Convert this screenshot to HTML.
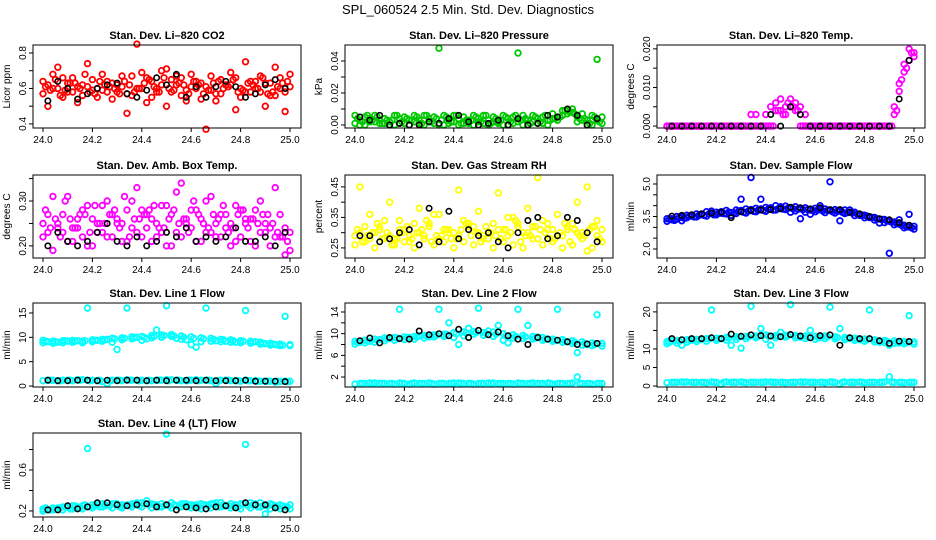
<!DOCTYPE html>
<html><head><meta charset="utf-8">
<style>
html,body{margin:0;padding:0;background:#fff;}
svg{display:block;font-family:"Liberation Sans",Arial,sans-serif;}
</style></head>
<body>
<svg id="chart" width="936" height="540" viewBox="0 0 936 540">
<text x="468" y="14" text-anchor="middle" font-size="13">SPL_060524  2.5 Min. Std. Dev. Diagnostics</text>
</svg>
<script>
// shared time grids
const tA = [24.00,24.04,24.08,24.12,24.16,24.20,24.24,24.28,24.32,24.36,24.40,24.44,24.48,24.52,24.56,24.60,24.64,24.68,24.72,24.76,24.80,24.84,24.88,24.92,24.96,25.00];
const tB = [24.02,24.06,24.10,24.14,24.18,24.22,24.26,24.30,24.34,24.38,24.42,24.46,24.50,24.54,24.58,24.62,24.66,24.70,24.74,24.78,24.82,24.86,24.90,24.94,24.98];
const tC = [24.01,24.05,24.09,24.13,24.17,24.21,24.25,24.29,24.33,24.37,24.41,24.45,24.49,24.53,24.57,24.61,24.65,24.69,24.73,24.77,24.81,24.85,24.89,24.93,24.97];
const tD = [24.03,24.07,24.11,24.15,24.19,24.23,24.27,24.31,24.35,24.39,24.43,24.47,24.51,24.55,24.59,24.63,24.67,24.71,24.75,24.79,24.83,24.87,24.91,24.95,24.99];
const xTicks = [24.0,24.2,24.4,24.6,24.8,25.0];

// CO2
const co2A = [0.64,0.60,0.66,0.58,0.62,0.65,0.59,0.63,0.61,0.67,0.60,0.64,0.62,0.58,0.66,0.61,0.63,0.59,0.65,0.62,0.60,0.64,0.58,0.63,0.66,0.61];
const co2B = [0.57,0.68,0.55,0.66,0.56,0.59,0.68,0.54,0.67,0.56,0.69,0.55,0.70,0.65,0.56,0.68,0.54,0.67,0.57,0.69,0.55,0.58,0.67,0.56,0.60,0.68];
const co2C = [0.62,0.72,0.58,0.61,0.74,0.60,0.64,0.62,0.57,0.85,0.66,0.60,0.71,0.62,0.59,0.64,0.61,0.53,0.62,0.66,0.75,0.60,0.63,0.72,0.58];
const co2D = [0.50,0.60,0.63,0.52,0.61,0.55,0.58,0.58,0.46,0.60,0.52,0.58,0.50,0.67,0.53,0.60,0.37,0.57,0.62,0.48,0.58,0.64,0.50,0.56,0.47];
const co2E = [0.61,0.65,0.59,0.63,0.68,0.57,0.62,0.60,0.64,0.58,0.63,0.61,0.66,0.59,0.62,0.64,0.57,0.63,0.60,0.65,0.59,0.62,0.66,0.58,0.63];
const co2F = [0.59,0.56,0.63,0.60,0.58,0.64,0.61,0.57,0.62,0.60,0.65,0.58,0.60,0.63,0.57,0.62,0.59,0.64,0.61,0.58,0.63,0.60,0.57,0.61,0.64];
const co2K = [0.53,0.64,0.60,0.54,0.57,0.60,0.62,0.63,0.57,0.55,0.59,0.66,0.62,0.68,0.55,0.61,0.55,0.61,0.64,0.61,0.55,0.57,0.62,0.65,0.60];
// Pressure
const prA = [0.006,0.005,0.006,0.004,0.006,0.005,0.006,0.006,0.005,0.006,0.006,0.005,0.006,0.006,0.005,0.006,0.005,0.006,0.006,0.005,0.007,0.009,0.010,0.007,0.006,0.005];
const prB = [0.001,0.000,0.002,0.001,0.000,0.001,0.002,0.000,0.001,0.000,0.002,0.001,0.000,0.001,0.002,0.000,0.001,0.000,0.002,0.001,0.004,0.006,0.008,0.003,0.000,0.001];
const prC = [0.003,0.004,0.003,0.002,0.004,0.003,0.003,0.004,0.048,0.003,0.004,0.003,0.004,0.003,0.002,0.004,0.045,0.003,0.004,0.003,0.005,0.009,0.005,0.003,0.003];
const prD = [0.000,0.002,0.001,0.000,0.001,0.000,0.001,0.002,0.000,0.001,0.000,0.001,0.002,0.000,0.001,0.000,0.002,0.000,0.001,0.000,0.003,0.007,0.002,0.000,0.041];
const prE = [0.004,0.006,0.005,0.003,0.006,0.004,0.005,0.006,0.004,0.005,0.006,0.003,0.005,0.006,0.004,0.005,0.006,0.004,0.005,0.006,0.004,0.009,0.007,0.004,0.005];
const prF = [0.002,0.003,0.001,0.003,0.002,0.003,0.001,0.002,0.003,0.002,0.001,0.003,0.002,0.001,0.003,0.002,0.003,0.001,0.002,0.003,0.005,0.008,0.004,0.001,0.002];
const prK = [0.005,0.003,0.006,0.000,0.001,0.000,0.000,0.002,0.001,0.004,0.006,0.002,0.000,0.001,0.003,0.000,0.004,0.000,0.001,0.006,0.005,0.010,0.006,0.000,0.004];
// Li-820 temp
const tmA = [0,0,0,0,0,0,0,0,0,0.003,0.003,0.004,0.005,0.006,0.003,0,0,0,0,0,0,0,0,0.003,0.014,0.019];
const tmB = [0,0,0,0,0,0,0,0,0,0,0,0.006,0.003,0.004,0,0,0,0,0,0,0,0,0,0.005,0.016,0.018];
const tmC = [0,0,0,0,0,0,0,0,0.003,0,0.005,0.004,0.005,0.005,0,0,0,0,0,0,0,0,0,0.011,0.020];
const tmD = [0,0,0,0,0,0,0,0,0,0,0,0.007,0.007,0,0,0,0,0,0,0,0,0,0,0.009,0.017];
const tmE = [0,0,0,0,0,0,0,0,0,0,0,0.004,0.006,0.004,0,0,0,0,0,0,0,0,0,0.004,0.015];
const tmF = [0,0,0,0,0,0,0,0,0,0,0,0.003,0.005,0,0,0,0,0,0,0,0,0,0,0.012,0.019];
const tmK = [0,0,0,0,0,0,0,0,0,0,0.003,0,0.005,0.003,0,0,0,0,0,0,0,0,0,0.007,0.017];
// Amb box temp
const abA = [0.25,0.31,0.27,0.24,0.28,0.26,0.29,0.27,0.25,0.30,0.28,0.26,0.29,0.27,0.34,0.28,0.26,0.31,0.27,0.25,0.28,0.26,0.30,0.24,0.27,0.23];
const abB = [0.22,0.19,0.23,0.21,0.22,0.20,0.23,0.22,0.21,0.24,0.22,0.21,0.23,0.20,0.22,0.24,0.21,0.23,0.22,0.20,0.22,0.21,0.23,0.20,0.22,0.19];
const abC = [0.27,0.24,0.31,0.26,0.29,0.25,0.30,0.26,0.28,0.33,0.27,0.25,0.29,0.32,0.26,0.28,0.30,0.25,0.27,0.29,0.26,0.28,0.25,0.33,0.24];
const abD = [0.23,0.25,0.21,0.24,0.20,0.23,0.22,0.25,0.21,0.23,0.24,0.22,0.20,0.23,0.25,0.21,0.23,0.22,0.24,0.21,0.25,0.20,0.23,0.22,0.18];
const abE = [0.28,0.26,0.30,0.24,0.27,0.29,0.25,0.28,0.31,0.26,0.27,0.29,0.24,0.28,0.26,0.30,0.25,0.27,0.29,0.24,0.28,0.26,0.27,0.25,0.22];
const abF = [0.24,0.22,0.26,0.27,0.23,0.25,0.27,0.24,0.22,0.26,0.28,0.24,0.26,0.25,0.23,0.27,0.24,0.26,0.23,0.27,0.24,0.25,0.27,0.23,0.21];
const abK = [0.20,0.23,0.21,0.20,0.21,0.23,0.25,0.21,0.20,0.22,0.20,0.21,0.23,0.22,0.24,0.21,0.22,0.21,0.22,0.24,0.21,0.21,0.22,0.20,0.23];
// Gas stream RH
const rhA = [0.29,0.32,0.30,0.34,0.28,0.31,0.33,0.29,0.36,0.31,0.30,0.34,0.32,0.29,0.33,0.31,0.35,0.30,0.32,0.34,0.31,0.29,0.33,0.30,0.32,0.31];
const rhB = [0.26,0.27,0.25,0.28,0.26,0.27,0.25,0.28,0.26,0.27,0.25,0.27,0.26,0.28,0.25,0.27,0.26,0.25,0.28,0.26,0.27,0.25,0.26,0.28,0.25,0.27];
const rhC = [0.45,0.36,0.31,0.40,0.34,0.29,0.38,0.32,0.36,0.30,0.44,0.33,0.37,0.30,0.43,0.35,0.32,0.38,0.48,0.33,0.36,0.31,0.40,0.45,0.34];
const rhD = [0.30,0.28,0.32,0.29,0.31,0.27,0.30,0.33,0.28,0.31,0.29,0.32,0.30,0.28,0.31,0.29,0.33,0.30,0.28,0.31,0.29,0.32,0.30,0.24,0.29];
const rhE = [0.31,0.29,0.33,0.30,0.28,0.32,0.30,0.34,0.29,0.31,0.28,0.33,0.30,0.32,0.29,0.31,0.34,0.29,0.32,0.30,0.28,0.33,0.31,0.29,0.32];
const rhF = [0.27,0.30,0.28,0.26,0.30,0.28,0.31,0.27,0.29,0.28,0.31,0.29,0.27,0.30,0.28,0.30,0.27,0.29,0.31,0.28,0.30,0.27,0.29,0.31,0.28];
const rhK = [0.29,0.29,0.27,0.28,0.30,0.31,0.26,0.38,0.27,0.37,0.28,0.31,0.29,0.30,0.27,0.25,0.30,0.34,0.35,0.28,0.29,0.35,0.34,0.30,0.27];
// Sample flow
const sfA = [3.40,3.50,3.56,3.62,3.72,3.70,3.78,3.80,3.85,3.88,3.92,4.00,3.98,3.95,3.90,3.88,3.85,3.82,3.80,3.70,3.56,3.46,3.36,3.25,3.10,3.05];
const sfB = [3.28,3.38,3.44,3.48,3.52,3.58,3.62,3.64,3.66,3.72,3.74,3.80,3.82,3.76,3.70,3.72,3.68,3.66,3.64,3.54,3.44,3.34,3.22,3.12,2.98,2.92];
const sfC = [3.40,3.30,3.55,3.60,3.75,3.65,3.55,4.30,5.30,4.30,3.85,3.95,3.70,3.40,3.60,4.00,5.10,3.30,3.80,3.55,3.45,3.20,1.80,3.35,3.60];
const sfD = [3.35,3.48,3.52,3.62,3.65,3.72,3.68,3.78,3.82,3.85,3.90,3.88,3.92,3.86,3.80,3.84,3.78,3.76,3.70,3.60,3.48,3.38,3.28,3.15,3.02];
const sfE = [3.38,3.45,3.52,3.56,3.62,3.66,3.70,3.74,3.76,3.80,3.84,3.86,3.88,3.84,3.82,3.80,3.78,3.74,3.68,3.62,3.52,3.40,3.30,3.18,3.02];
const sfF = [3.32,3.42,3.48,3.55,3.58,3.64,3.66,3.70,3.74,3.78,3.80,3.84,3.86,3.82,3.78,3.76,3.72,3.70,3.66,3.56,3.46,3.36,3.24,3.10,2.98];
const sfK = [3.52,3.55,3.58,3.62,3.66,3.70,3.45,3.72,3.78,3.80,3.82,3.86,3.92,3.90,3.85,3.90,3.82,3.82,3.70,3.62,3.50,3.40,3.35,3.22,3.10];
// Line 1 flow
const l1A = [9.4,9.2,9.3,9.4,9.2,9.5,9.6,9.8,9.9,10.1,10.2,10.4,10.5,10.6,10.3,10.1,9.9,9.8,9.6,9.5,9.3,9.2,9.0,8.8,8.6,8.5];
const l1B = [8.9,8.8,8.9,9.0,8.9,9.1,9.2,9.0,9.5,9.7,9.4,9.9,10.0,10.2,9.6,8.5,9.1,9.2,9.1,9.0,8.9,8.8,8.6,8.4,8.3,8.3];
const l1C = [9.1,9.0,9.2,9.3,16.0,9.4,9.6,7.5,16.0,10.0,9.7,11.5,16.5,9.8,9.5,8.0,16.0,9.3,9.2,9.0,15.5,9.1,8.7,8.5,14.3];
const l1D = [1.2,1.1,1.2,1.3,1.2,1.1,0.5,1.2,1.3,1.2,1.1,1.2,1.3,1.2,1.1,1.3,1.2,0.5,1.2,1.1,1.2,1.1,1.0,0.8,1.0];
const l1E = [1.1,1.2,1.2,1.1,1.3,1.2,0.9,1.2,1.1,1.2,1.2,1.1,1.2,1.3,1.1,1.2,1.2,1.1,1.2,1.1,1.0,1.1,1.0,1.0,0.9,1.0];
const l1F = [9.2,9.1,9.3,9.2,9.3,9.4,9.5,9.7,9.8,9.9,10.0,10.2,10.4,10.3,10.0,9.8,9.7,9.6,9.5,9.3,9.2,9.0,8.8,8.6,8.4];
const l1G = [1.2,1.1,1.2,1.2,1.1,1.2,1.1,1.2,1.2,1.1,1.2,1.2,1.1,1.2,1.2,1.1,1.2,1.1,1.2,1.1,1.1,1.0,1.0,1.0,0.9];
const l1K = [1.2,1.1,1.1,1.2,1.2,1.1,1.2,1.1,1.2,1.2,1.1,1.2,1.1,1.2,1.2,1.1,1.2,1.1,1.1,1.1,1.2,1.0,1.0,1.0,0.9];
// Line 2 flow
const l2A = [8.6,8.8,9.0,9.2,9.3,9.4,9.5,9.7,9.8,9.9,10.2,10.3,10.4,10.2,10.3,10.0,9.8,9.7,9.5,9.3,9.0,8.9,8.7,8.5,8.3,8.2];
const l2B = [8.1,8.3,8.4,8.7,8.8,8.9,9.0,9.2,9.4,9.5,9.3,9.6,9.9,9.7,9.5,8.8,9.2,9.1,9.0,8.8,8.6,8.4,8.2,7.9,7.8,7.7];
const l2C = [8.4,8.6,8.9,9.1,14.5,9.3,9.6,9.4,14.5,12.0,8.0,11.0,14.7,10.5,11.5,8.3,14.5,11.5,9.4,9.0,14.5,8.5,6.5,8.0,13.5];
const l2D = [0.8,0.9,0.8,0.8,0.9,0.7,0.8,0.9,0.8,0.8,0.9,0.8,0.8,0.9,0.8,0.8,0.9,0.8,0.8,0.9,0.8,0.8,2.0,0.8,0.8];
const l2E = [0.7,0.8,0.9,0.8,0.7,0.8,0.9,0.8,0.7,0.8,0.9,0.8,0.7,0.8,0.9,0.8,0.7,0.8,0.9,0.8,0.7,0.8,0.9,0.8,0.7,0.8];
const l2F = [8.4,8.6,8.8,9.1,9.2,9.3,9.4,9.6,9.7,9.9,10.0,10.1,10.2,10.0,9.9,9.6,9.5,9.4,9.2,9.0,8.8,8.6,8.4,8.2,8.0];
const l2G = [0.8,0.8,0.8,0.8,0.8,0.8,0.8,0.8,0.8,0.8,0.8,0.8,0.8,0.8,0.8,0.8,0.8,0.8,0.8,0.8,0.8,0.8,0.8,0.8,0.8];
const l2K = [8.7,9.2,8.3,9.3,9.1,9.0,10.5,9.8,10.0,9.6,10.8,9.3,10.6,9.8,10.3,9.6,9.0,8.0,9.3,9.0,8.8,8.5,8.0,8.1,8.2];
// Line 3 flow
const l3A = [12.0,12.3,12.5,12.6,12.8,12.9,13.1,13.3,13.4,13.5,13.8,13.6,13.7,13.6,13.5,13.4,13.5,13.3,13.1,12.9,12.7,12.5,12.3,12.2,12.0,11.9];
const l3B = [11.4,11.6,11.8,12.0,12.1,12.3,12.4,12.6,12.8,13.0,12.6,13.0,13.2,13.0,12.8,12.6,12.8,12.7,12.5,12.3,12.1,11.9,11.7,11.5,11.4,11.3];
const l3C = [12.2,11.0,12.4,12.6,20.5,12.8,11.0,10.2,21.5,15.5,11.0,14.5,22.0,13.2,15.0,13.0,21.3,15.5,12.8,12.5,20.5,11.8,11.0,11.6,19.0];
const l3D = [1.0,1.1,1.0,1.0,1.1,0.5,1.0,1.1,1.0,1.0,1.1,1.0,1.0,1.1,1.0,1.0,1.1,0.5,1.0,1.1,1.0,1.0,2.5,1.0,1.0];
const l3E = [0.9,1.0,1.1,1.0,0.9,1.0,1.1,1.0,0.9,1.0,1.1,1.0,0.9,1.0,1.1,1.0,0.9,1.0,1.1,1.0,0.9,1.0,1.1,1.0,0.9,1.0];
const l3F = [11.8,12.1,12.3,12.5,12.7,12.8,13.0,13.2,13.3,13.4,13.5,13.5,13.6,13.4,13.3,13.2,13.3,13.1,12.9,12.7,12.5,12.3,12.1,11.9,11.7];
const l3G = [1.0,1.0,1.0,1.0,1.0,1.0,1.0,1.0,1.0,1.0,1.0,1.0,1.0,1.0,1.0,1.0,1.0,1.0,1.0,1.0,1.0,1.0,1.0,1.0,1.0];
const l3K = [12.8,12.5,12.8,12.8,13.0,12.8,14.0,13.4,13.8,13.6,13.5,13.3,13.9,13.5,13.0,13.6,13.8,11.0,13.0,12.8,12.8,12.2,11.5,12.1,12.0];
// Line 4 (LT) flow
const l4A = [0.22,0.23,0.24,0.25,0.25,0.26,0.27,0.27,0.26,0.27,0.28,0.27,0.27,0.28,0.27,0.26,0.27,0.27,0.28,0.27,0.27,0.28,0.28,0.27,0.26,0.26];
const l4B = [0.20,0.21,0.21,0.22,0.22,0.23,0.24,0.23,0.23,0.24,0.24,0.23,0.24,0.23,0.24,0.23,0.22,0.23,0.24,0.23,0.22,0.23,0.24,0.22,0.22,0.22];
const l4C = [0.21,0.23,0.24,0.24,0.81,0.26,0.25,0.27,0.26,0.28,0.30,0.26,0.95,0.25,0.27,0.26,0.26,0.28,0.25,0.26,0.85,0.27,0.17,0.25,0.24];
const l4E = [0.23,0.22,0.24,0.25,0.26,0.25,0.26,0.27,0.25,0.26,0.27,0.26,0.25,0.26,0.27,0.25,0.26,0.27,0.26,0.25,0.27,0.26,0.25,0.26,0.25];
const l4F = [0.21,0.23,0.22,0.23,0.24,0.24,0.25,0.24,0.25,0.25,0.26,0.24,0.25,0.24,0.25,0.24,0.25,0.24,0.25,0.24,0.25,0.24,0.25,0.24,0.24];
const l4K = [0.21,0.21,0.25,0.22,0.24,0.28,0.28,0.26,0.25,0.26,0.27,0.24,0.26,0.21,0.24,0.23,0.22,0.24,0.25,0.23,0.28,0.26,0.26,0.23,0.21];

const NS = "http://www.w3.org/2000/svg";
const svg = document.getElementById("chart");
function mk(tag, attrs, parent){
  const e = document.createElementNS(NS, tag);
  for (const k in attrs) e.setAttribute(k, attrs[k]);
  (parent||svg).appendChild(e);
  return e;
}
const colLeft = [33,345,657];
const rowTop = [45,175,303,433];
const boxW = 268;

const panels = [
 {name:"co2", title:"Stan. Dev. Li\u2013820 CO2", ylab:"Licor ppm", col:"#ff0000", r:0,c:0, ylim:[0.377,0.845], ticks:[0.4,0.5,0.6,0.7,0.8], labels:[0.4,0.6,0.8], dec:1,
  series:[[tA,co2A],[tA,co2B],[tB,co2C],[tB,co2D],[tC,co2E],[tD,co2F]], black:[[tB,co2K]]},
 {name:"pressure", title:"Stan. Dev. Li\u2013820 Pressure", ylab:"kPa", col:"#00c800", r:0,c:1, ylim:[-0.0019,0.050], ticks:[0,0.01,0.02,0.03,0.04], labels:[0,0.02,0.04], dec:2,
  series:[[tA,prA],[tA,prB],[tB,prC],[tB,prD],[tC,prE],[tD,prF]], black:[[tB,prK]]},
 {name:"li820-temp", title:"Stan. Dev. Li\u2013820 Temp.", ylab:"degrees C", col:"#ff00ff", r:0,c:2, ylim:[-0.0005,0.021], ticks:[0,0.005,0.01,0.015,0.02], labels:[0,0.01,0.02], dec:3,
  series:[[tA,tmA],[tA,tmB],[tB,tmC],[tB,tmD],[tC,tmE],[tD,tmF]], black:[[tB,tmK]]},
 {name:"amb-box-temp", title:"Stan. Dev. Amb. Box Temp.", ylab:"degrees C", col:"#ff00ff", r:1,c:0, ylim:[0.173,0.358], ticks:[0.2,0.25,0.3,0.35], labels:[0.2,0.3], dec:2,
  series:[[tA,abA],[tA,abB],[tB,abC],[tB,abD],[tC,abE],[tD,abF]], black:[[tB,abK]]},
 {name:"gas-rh", title:"Stan. Dev. Gas Stream RH", ylab:"percent", col:"#ffff00", r:1,c:1, ylim:[0.217,0.489], ticks:[0.25,0.3,0.35,0.4,0.45], labels:[0.25,0.35,0.45], dec:2,
  series:[[tA,rhA],[tA,rhB],[tB,rhC],[tB,rhD],[tC,rhE],[tD,rhF]], black:[[tB,rhK]]},
 {name:"sample-flow", title:"Stan. Dev. Sample Flow", ylab:"ml/min", col:"#0000ff", r:1,c:2, ylim:[1.585,5.415], ticks:[2,2.5,3,3.5,4,4.5,5], labels:[2,3.5,5], dec:1,
  series:[[tA,sfA],[tA,sfB],[tB,sfC],[tB,sfD],[tC,sfE],[tD,sfF]], black:[[tB,sfK]]},
 {name:"line1-flow", title:"Stan. Dev. Line 1 Flow", ylab:"ml/min", col:"#00ffff", r:2,c:0, ylim:[-0.2,17.05], ticks:[0,5,10,15], labels:[0,5,10,15], dec:0,
  series:[[tA,l1A],[tA,l1B],[tB,l1C],[tB,l1D],[tA,l1E],[tC,l1F],[tD,l1G]], black:[[tB,l1K]]},
 {name:"line2-flow", title:"Stan. Dev. Line 2 Flow", ylab:"ml/min", col:"#00ffff", r:2,c:1, ylim:[0.16,15.66], ticks:[2,4,6,8,10,12,14], labels:[2,6,10,14], dec:0,
  series:[[tA,l2A],[tA,l2B],[tB,l2C],[tB,l2D],[tA,l2E],[tC,l2F],[tD,l2G]], black:[[tB,l2K]]},
 {name:"line3-flow", title:"Stan. Dev. Line 3 Flow", ylab:"ml/min", col:"#00ffff", r:2,c:2, ylim:[-0.27,22.4], ticks:[0,5,10,15,20], labels:[0,5,10,20], dec:0,
  series:[[tA,l3A],[tA,l3B],[tB,l3C],[tB,l3D],[tA,l3E],[tC,l3F],[tD,l3G]], black:[[tB,l3K]]},
 {name:"line4-flow", title:"Stan. Dev. Line 4 (LT) Flow", ylab:"ml/min", col:"#00ffff", r:3,c:0, ylim:[0.141,0.961], ticks:[0.2,0.4,0.6,0.8], labels:[0.2,0.6], dec:1,
  series:[[tA,l4A],[tA,l4B],[tB,l4C],[tC,l4E],[tD,l4F]], black:[[tB,l4K]]}
];

panels.forEach(p=>{
  const L = colLeft[p.c], T = rowTop[p.r], H = (p.r<2?83:84), B = T+H;
  const g = mk("g",{});
  
  
  const xs = v => L+10+(v-24)*247;
  const ys = v => B-(v-p.ylim[0])/(p.ylim[1]-p.ylim[0])*H;
  const tt = mk("text",{x:L+boxW/2,y:T-6,"text-anchor":"middle","font-size":"11","font-weight":"bold"},g);
  tt.textContent = p.title;
  
  
  const yl = mk("text",{x:0,y:0,"text-anchor":"middle","font-size":"10",transform:`translate(${L-23},${T+H/2}) rotate(-90)`},g);
  yl.textContent = p.ylab;
  
  
  const pts = mk("g",{fill:"none"},g);
  
  
  p.series.forEach(([xa,ya])=>{
    ya.forEach((v,i)=>{
      if(i>=xa.length) return;
      const c = mk("circle",{cx:xs(xa[i]).toFixed(1),cy:ys(v).toFixed(1),r:"2.8",stroke:p.col,"stroke-width":"1.8"},pts);
      
      
    });
  });
  p.black.forEach(([xa,ya])=>{
    ya.forEach((v,i)=>{
      const c = mk("circle",{cx:xs(xa[i]).toFixed(1),cy:ys(v).toFixed(1),r:"2.7",stroke:"#000","stroke-width":"1.6"},pts);
      
      
    });
  });
  const bx = mk("rect",{x:L,y:T,width:boxW,height:H,fill:"none",stroke:"#000","stroke-width":"1"},g);
  
  
  const xa = mk("g",{"font-size":"10","text-anchor":"middle"},g);
  
  
  xTicks.forEach(v=>{
    mk("line",{x1:xs(v),x2:xs(v),y1:B,y2:B+4,stroke:"#000"},xa);
    const t = mk("text",{x:xs(v),y:B+15},xa);
    t.textContent = v.toFixed(1);
  });
  const ya = mk("g",{"font-size":"10","text-anchor":"middle"},g);
  
  
  p.ticks.forEach(v=>{
    mk("line",{x1:L-4,x2:L,y1:ys(v),y2:ys(v),stroke:"#000"},ya);
  });
  p.labels.forEach(v=>{
    const t = mk("text",{x:0,y:0,transform:`translate(${L-7},${ys(v)}) rotate(-90)`},ya);
    t.textContent = v.toFixed(p.dec);
  });
});
</script>
</body></html>
